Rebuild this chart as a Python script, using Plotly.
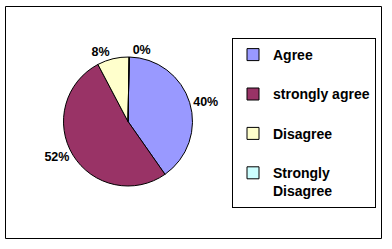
import plotly.graph_objects as go

categories = ["Agree", "strongly agree", "Disagree", "Strongly Disagree"]
values = [40, 52, 8, 0]
colors = ["#9999FF", "#993366", "#FFFFCC", "#CCFFFF"]

W, H = 392, 249

def two_line(label):
    if label == "Strongly Disagree":
        return "Strongly<br>Disagree"
    return label + "<br>\u00a0"

legend_labels = [two_line(c) for c in categories]

def px(x):
    return x / W

def py(y):
    return 1 - y / H

fig = go.Figure(
    go.Pie(
        labels=legend_labels,
        values=values,
        sort=False,
        direction="clockwise",
        rotation=1,
        marker=dict(colors=colors, line=dict(color="#000000", width=1)),
        textposition="outside",
        texttemplate="%{percent:.0%}",
        textfont=dict(family="Liberation Sans, Arial", size=12.5, color="#000000", weight="bold"),
        domain=dict(x=[px(63.5), px(192.5)], y=[py(186), py(57)]),
        hoverinfo="label+percent",
    )
)

fig.update_layout(
    width=W,
    height=H,
    margin=dict(l=0, r=0, t=0, b=0),
    paper_bgcolor="#FFFFFF",
    plot_bgcolor="#FFFFFF",
    font=dict(family="Liberation Sans, Arial", color="#000000"),
    showlegend=True,
    legend=dict(
        x=px(376),
        xanchor="right",
        y=py(38),
        yanchor="top",
        bordercolor="#000000",
        borderwidth=1,
        bgcolor="#FFFFFF",
        valign="top",
        font=dict(family="Liberation Sans, Arial", size=14, color="#000000", weight="bold"),
        itemwidth=30,
    ),
    shapes=[
        dict(
            type="rect",
            xref="paper",
            yref="paper",
            x0=px(5.5),
            x1=px(381.5),
            y0=py(238.5),
            y1=py(6.5),
            line=dict(color="#000000", width=1),
            layer="below",
        )
    ],
)

fig.write_html("out.html")
